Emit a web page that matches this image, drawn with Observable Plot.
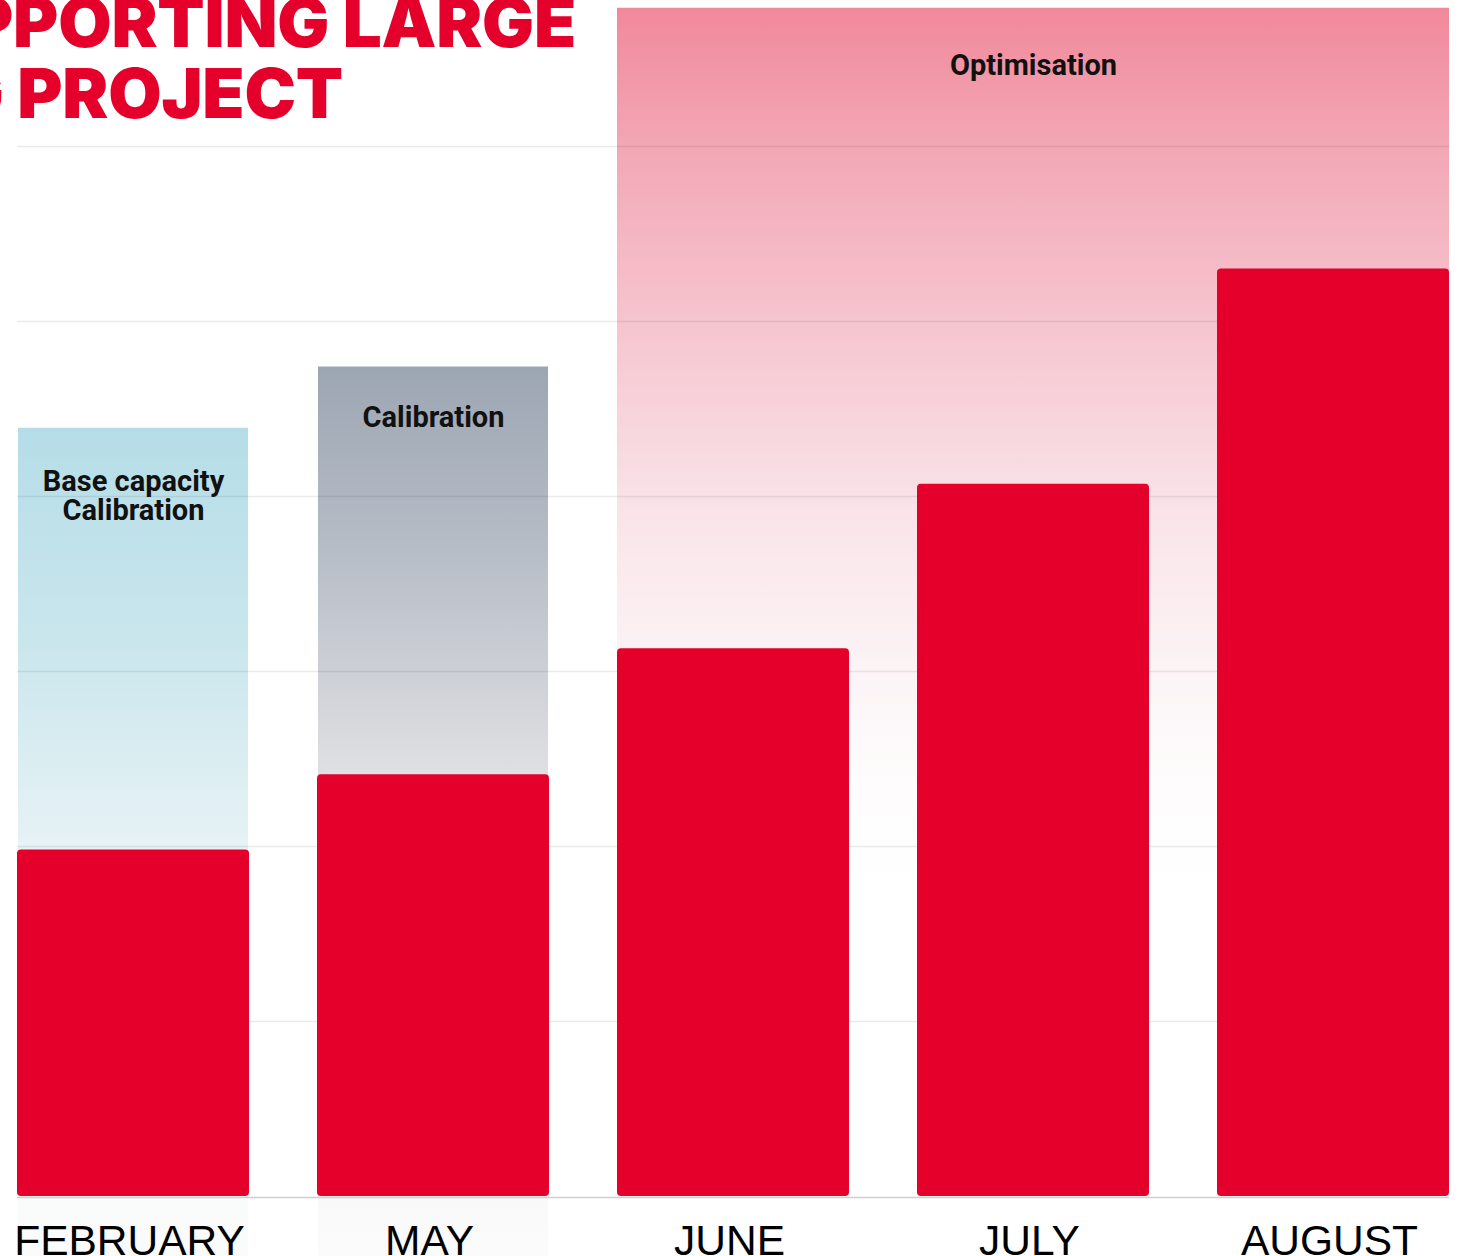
<!DOCTYPE html>
<html>
<head>
<meta charset="utf-8">
<script src="https://cdn.jsdelivr.net/npm/d3@7"></script>
<script src="https://cdn.jsdelivr.net/npm/@observablehq/plot@0.6"></script>
<style>
  html, body { margin: 0; padding: 0; background: #fff; overflow: hidden; }
  #wrap { position: relative; width: 1460px; height: 1256px; }
  .title { position: absolute; right: 884px; white-space: nowrap; font-family: Inter, "Noto Sans", sans-serif;
           font-weight: 900; font-size: 69px; line-height: 60px; color: #E4002B; letter-spacing: -0.2px; z-index: 2; }
  #chart { position: absolute; left: 0; top: 0; }
</style>
</head>
<body>
<div id="wrap">
  <div id="chart"></div>
  <div class="title" style="top:-8px">PPORTING LARGE</div>
  <div class="title" style="top:63px; right:1117px">G PROJECT</div>
</div>
<script>
// Data
const months = ["FEBRUARY", "MAY", "JUNE", "JULY", "AUGUST"];
const values = [1.98, 2.41, 3.13, 4.07, 5.30];
const gridTicks = [1, 2, 3, 4, 5, 6];

// Phase backgrounds
const phaseMonths = ["FEBRUARY", "MAY"];
const phaseTops = [4.39, 4.74];
const optimisationMonths = ["JUNE", "JULY", "AUGUST"];
const optimisationTop = 6.79;

// Phase labels
const labelMonths = ["FEBRUARY", "MAY", "JULY"];
const labelTexts = ["Base capacity\nCalibration", "Calibration", "Optimisation"];
const labelValues = [4.0, 4.45, 6.46];

const bars = months.map((m, i) => ({month: m, value: values[i]}));
const phases = phaseMonths.map((m, i) => ({month: m, top: phaseTops[i], grad: i === 0 ? "url(#gBlue)" : "url(#gGray)"}));
const labels = labelMonths.map((m, i) => ({month: m, text: labelTexts[i], y: labelValues[i]}));

const W = 1460, H = 1256;
const mBottom = 60, mTop = 0;
const yMax = (H - mBottom - mTop) / 175;

const optMark = (m, il, ir) => Plot.rectY([{month: m}], {
  x: "month", y1: -0.35, y2: optimisationTop, fill: "url(#gPink)", insetLeft: il, insetRight: ir
});

const plot = Plot.plot({
  width: W,
  height: H,
  marginTop: mTop,
  marginLeft: 17,
  marginRight: 11,
  marginBottom: mBottom,
  x: {domain: months, padding: 0.227, paddingOuter: 0, label: null},
  y: {domain: [0, yMax], axis: null},
  style: {background: "transparent"},
  marks: [
    Plot.rectY(phases, {x: "month", y1: -0.35, y2: "top", fill: "grad", insetLeft: 1, insetRight: 1}),
    optMark("JUNE", 0, -34),
    optMark("JULY", -34, -34),
    optMark("AUGUST", -34, 0),
    Plot.ruleY(gridTicks, {stroke: "#000", strokeOpacity: 0.08, strokeWidth: 1.5}),
    Plot.barY(bars, {x: "month", y: "value", fill: "#E4002B", rx: 4}),
    Plot.ruleY([0], {stroke: "#cfcfcf", strokeWidth: 1.5, dy: 1}),
    Plot.text(labels, {x: "month", y: "y", text: "text", fontFamily: "Roboto", fontWeight: 700,
      fontSize: 29, fill: "#111", lineHeight: 1.0, lineAnchor: "middle"}),
    Plot.axisX({tickSize: 0, tickPadding: 28, fontSize: 42.5, dx: -4, fontFamily: "'Liberation Sans', Arial, sans-serif",
      color: "#000", label: null})
  ]
});

const ns = "http://www.w3.org/2000/svg";
const defs = document.createElementNS(ns, "defs");
function grad(id, stops) {
  const g = document.createElementNS(ns, "linearGradient");
  g.setAttribute("id", id);
  g.setAttribute("x1", 0); g.setAttribute("y1", 0); g.setAttribute("x2", 0); g.setAttribute("y2", 1);
  stops.forEach(([o, c]) => {
    const s = document.createElementNS(ns, "stop");
    s.setAttribute("offset", o);
    s.setAttribute("stop-color", c);
    g.appendChild(s);
  });
  defs.appendChild(g);
}
grad("gBlue", [[0, "#b5dde7"], [0.25, "#c9e6ed"], [0.5, "#e6f2f5"], [0.75, "#f5f9fa"], [1, "#fbfbfb"]]);
grad("gGray", [[0, "#9ca6b2"], [0.2, "#b6bcc6"], [0.46, "#dfe0e3"], [0.75, "#f4f4f5"], [1, "#fbfbfb"]]);
grad("gPink", [[0, "#f1899b"], [0.12, "#f3a9b7"], [0.26, "#f6c6d0"], [0.4, "#f9e3e8"], [0.53, "#fcf4f6"], [0.62, "#fefcfc"], [0.7, "#ffffff"], [1, "#ffffff"]]);
plot.insertBefore(defs, plot.firstChild);

document.getElementById("chart").appendChild(plot);
</script>
</body>
</html>
